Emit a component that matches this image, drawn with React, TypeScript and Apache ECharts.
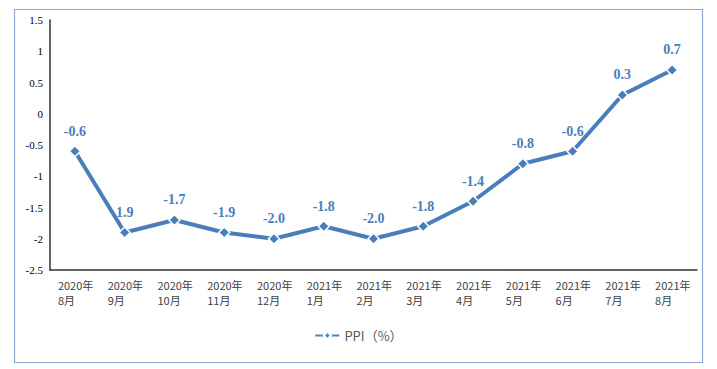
import React, { useEffect, useRef } from "react";
import * as echarts from "echarts";

const categories = [
  "2020年\n8月", "2020年\n9月", "2020年\n10月", "2020年\n11月", "2020年\n12月",
  "2021年\n1月", "2021年\n2月", "2021年\n3月", "2021年\n4月", "2021年\n5月",
  "2021年\n6月", "2021年\n7月", "2021年\n8月",
];
const ppiValues = [-0.6, -1.9, -1.7, -1.9, -2.0, -1.8, -2.0, -1.8, -1.4, -0.8, -0.6, 0.3, 0.7];
const pointLabels = ["-0.6", "1.9", "-1.7", "-1.9", "-2.0", "-1.8", "-2.0", "-1.8", "-1.4", "-0.8", "-0.6", "0.3", "0.7"];
const seriesName = "PPI（%）";

const BLUE = "#4a7ebb";
const SERIF = "'Liberation Serif', 'DejaVu Serif', serif";
const CJK = "'Noto Sans CJK SC', sans-serif";

export default function App() {
  const ref = useRef<HTMLDivElement>(null);
  useEffect(() => {
    if (!ref.current) return;
    const chart = echarts.init(ref.current, null, { renderer: "svg" });
    chart.setOption({
      animation: false,
      backgroundColor: "#ffffff",
      graphic: [
        {
          type: "rect",
          shape: { x: 14.5, y: 9.5, width: 688, height: 353 },
          style: { fill: "none", stroke: "#8aa6d2", lineWidth: 1.2 },
          silent: true,
        },
      ],
      grid: { left: 50, right: 20, top: 20, bottom: 99, containLabel: false },
      legend: {
        data: [seriesName],
        top: 324,
        left: "center",
        itemWidth: 24,
        itemHeight: 9,
        textStyle: { color: "#595959", fontSize: 13, fontFamily: CJK },
      },
      xAxis: {
        type: "category",
        data: categories,
        boundaryGap: true,
        axisLine: { onZero: false, lineStyle: { color: "#333333", width: 1.5 } },
        axisTick: { show: false },
        axisLabel: {
          interval: 0,
          margin: 7,
          color: "#404040",
          fontSize: 11,
          lineHeight: 15,
          fontFamily: CJK,
          formatter: (v: string) =>
            v
              .split("\n")
              .map((s) => `{a|${s}}`)
              .join("\n"),
          rich: {
            a: { width: 34, align: "left", fontSize: 11, lineHeight: 15, color: "#404040", fontFamily: CJK },
          },
        },
      },
      yAxis: {
        type: "value",
        min: -2.5,
        max: 1.5,
        interval: 0.5,
        axisLine: { show: true, lineStyle: { color: "#333333", width: 1.5 } },
        axisTick: { show: false },
        splitLine: { show: false },
        axisLabel: {
          margin: 7,
          color: "#000000",
          fontSize: 11,
          fontFamily: SERIF,
        },
      },
      series: [
        {
          name: seriesName,
          type: "line",
          data: ppiValues,
          symbol: "diamond",
          symbolSize: 11,
          lineStyle: { color: BLUE, width: 4 },
          itemStyle: { color: BLUE, borderColor: "#ffffff", borderWidth: 1.5 },
          label: {
            show: true,
            position: "top",
            distance: 7,
            color: BLUE,
            fontSize: 14,
            fontWeight: "bold",
            fontFamily: SERIF,
            formatter: (p: any) => pointLabels[p.dataIndex],
          },
        },
      ],
    });
    return () => chart.dispose();
  }, []);
  return (
    <div
      ref={ref}
      style={{ position: "absolute", left: 0, top: 0, width: 717, height: 369 }}
    />
  );
}
